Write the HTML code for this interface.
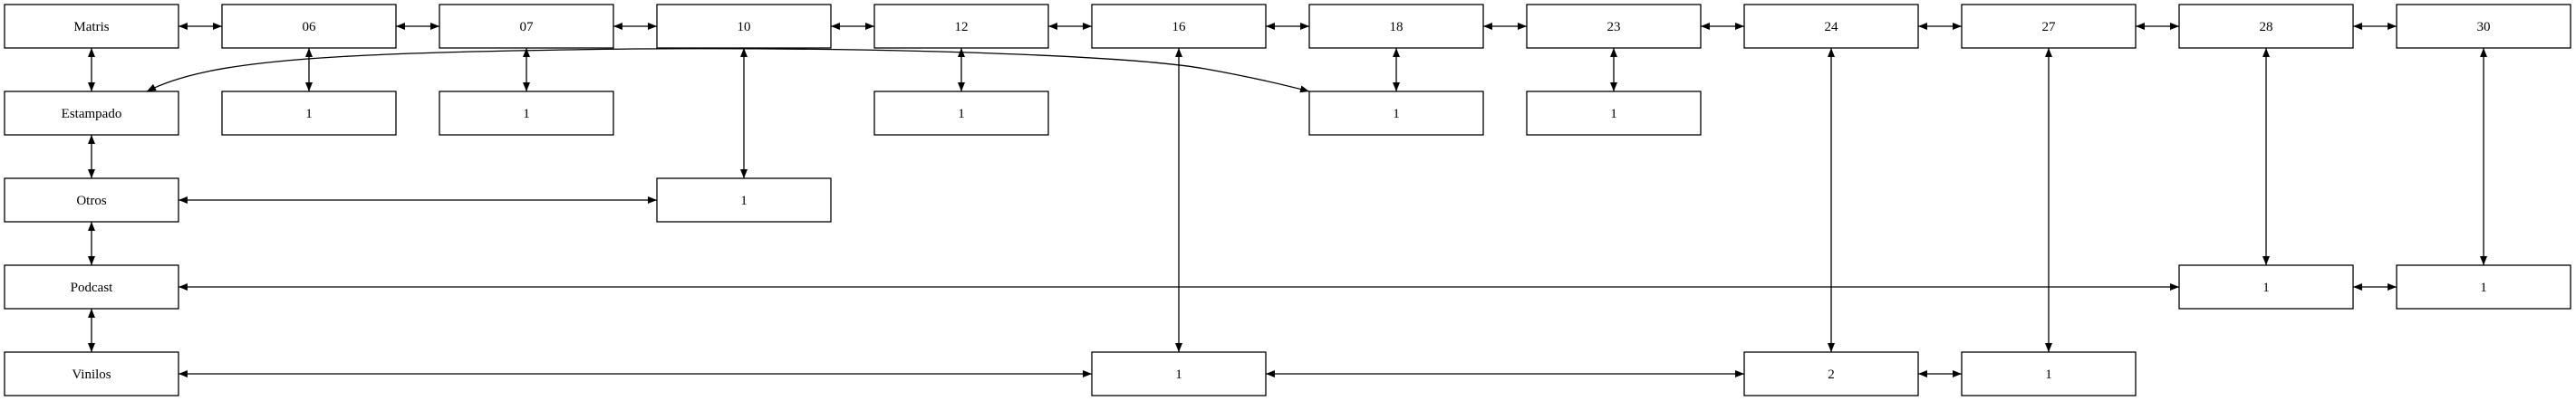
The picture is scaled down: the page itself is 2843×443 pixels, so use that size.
<!DOCTYPE html>
<html><head><meta charset="utf-8"><style>
html,body{margin:0;padding:0;background:#fff;}
svg{display:block;}
text{font-family:"Liberation Serif",serif;font-size:15px;fill:#000;}
</style></head><body>
<svg width="2843" height="443" viewBox="0 0 2843 443" xmlns="http://www.w3.org/2000/svg">
<defs>
<marker id="a" viewBox="0 0 10 8" refX="10" refY="4" markerWidth="10" markerHeight="8" markerUnits="userSpaceOnUse" orient="auto-start-reverse">
<path d="M0,0 L10,4 L0,8 z" fill="#000"/>
</marker>
</defs>
<g stroke="#000" stroke-width="1.3" fill="none" marker-start="url(#a)" marker-end="url(#a)">
<!-- top row horizontal -->
<line x1="197" y1="29" x2="245" y2="29"/>
<line x1="437" y1="29" x2="485" y2="29"/>
<line x1="677" y1="29" x2="725" y2="29"/>
<line x1="917" y1="29" x2="965" y2="29"/>
<line x1="1157" y1="29" x2="1205" y2="29"/>
<line x1="1397" y1="29" x2="1445" y2="29"/>
<line x1="1637" y1="29" x2="1685" y2="29"/>
<line x1="1877" y1="29" x2="1925" y2="29"/>
<line x1="2117" y1="29" x2="2165" y2="29"/>
<line x1="2357" y1="29" x2="2405" y2="29"/>
<line x1="2597" y1="29" x2="2645" y2="29"/>
<!-- left chain -->
<line x1="101" y1="53" x2="101" y2="101"/>
<line x1="101" y1="149" x2="101" y2="197"/>
<line x1="101" y1="245" x2="101" y2="293"/>
<line x1="101" y1="341" x2="101" y2="389"/>
<!-- short verticals -->
<line x1="341" y1="53" x2="341" y2="101"/>
<line x1="581" y1="53" x2="581" y2="101"/>
<line x1="1061" y1="53" x2="1061" y2="101"/>
<line x1="1541" y1="53" x2="1541" y2="101"/>
<line x1="1781" y1="53" x2="1781" y2="101"/>
<!-- long verticals -->
<line x1="821" y1="53" x2="821" y2="197"/>
<line x1="1301" y1="53" x2="1301" y2="389"/>
<line x1="2021" y1="53" x2="2021" y2="389"/>
<line x1="2261" y1="53" x2="2261" y2="389"/>
<line x1="2501" y1="53" x2="2501" y2="293"/>
<line x1="2741" y1="53" x2="2741" y2="293"/>
<!-- horizontals -->
<line x1="197" y1="221" x2="725" y2="221"/>
<line x1="197" y1="317" x2="2405" y2="317"/>
<line x1="2597" y1="317" x2="2645" y2="317"/>
<line x1="197" y1="413" x2="1205" y2="413"/>
<line x1="1397" y1="413" x2="1925" y2="413"/>
<line x1="2117" y1="413" x2="2165" y2="413"/>
<!-- curve -->
<path d="M162,101 C230,66 360,58 700,54 C1000,52 1250,62 1330,76 C1380,85 1415,93 1445,101"/>
</g>
<g stroke="#000" stroke-width="1.3" fill="#fff">
<rect x="5" y="5" width="192" height="48"/>
<rect x="245" y="5" width="192" height="48"/>
<rect x="485" y="5" width="192" height="48"/>
<rect x="725" y="5" width="192" height="48"/>
<rect x="965" y="5" width="192" height="48"/>
<rect x="1205" y="5" width="192" height="48"/>
<rect x="1445" y="5" width="192" height="48"/>
<rect x="1685" y="5" width="192" height="48"/>
<rect x="1925" y="5" width="192" height="48"/>
<rect x="2165" y="5" width="192" height="48"/>
<rect x="2405" y="5" width="192" height="48"/>
<rect x="2645" y="5" width="192" height="48"/>
<rect x="5" y="101" width="192" height="48"/>
<rect x="245" y="101" width="192" height="48"/>
<rect x="485" y="101" width="192" height="48"/>
<rect x="965" y="101" width="192" height="48"/>
<rect x="1445" y="101" width="192" height="48"/>
<rect x="1685" y="101" width="192" height="48"/>
<rect x="5" y="197" width="192" height="48"/>
<rect x="725" y="197" width="192" height="48"/>
<rect x="5" y="293" width="192" height="48"/>
<rect x="2405" y="293" width="192" height="48"/>
<rect x="2645" y="293" width="192" height="48"/>
<rect x="5" y="389" width="192" height="48"/>
<rect x="1205" y="389" width="192" height="48"/>
<rect x="1925" y="389" width="192" height="48"/>
<rect x="2165" y="389" width="192" height="48"/>
</g>
<g text-anchor="middle">
<text x="101" y="34">Matris</text>
<text x="341" y="34">06</text>
<text x="581" y="34">07</text>
<text x="821" y="34">10</text>
<text x="1061" y="34">12</text>
<text x="1301" y="34">16</text>
<text x="1541" y="34">18</text>
<text x="1781" y="34">23</text>
<text x="2021" y="34">24</text>
<text x="2261" y="34">27</text>
<text x="2501" y="34">28</text>
<text x="2741" y="34">30</text>
<text x="101" y="130">Estampado</text>
<text x="341" y="130">1</text>
<text x="581" y="130">1</text>
<text x="1061" y="130">1</text>
<text x="1541" y="130">1</text>
<text x="1781" y="130">1</text>
<text x="101" y="226">Otros</text>
<text x="821" y="226">1</text>
<text x="101" y="322">Podcast</text>
<text x="2501" y="322">1</text>
<text x="2741" y="322">1</text>
<text x="101" y="418">Vinilos</text>
<text x="1301" y="418">1</text>
<text x="2021" y="418">2</text>
<text x="2261" y="418">1</text>
</g>
</svg>
</body></html>
